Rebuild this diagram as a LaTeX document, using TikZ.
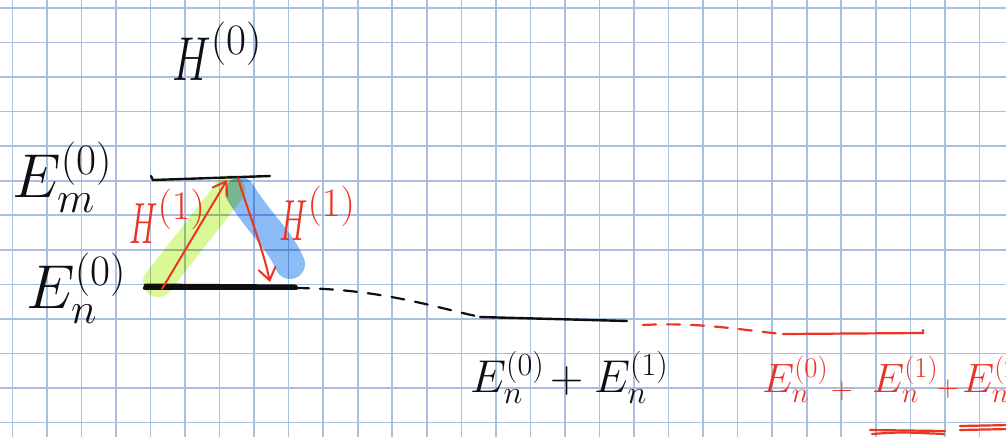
\RequirePackage{fix-cm}
\documentclass[tikz,border=0pt]{standalone}
\usepackage{graphicx}
\usetikzlibrary{arrows.meta}
\definecolor{gridc}{RGB}{170,190,224}
\definecolor{pen}{RGB}{15,15,15}
\definecolor{redpen}{RGB}{234,52,36}
\definecolor{hlgreen}{RGB}{218,248,150}
\definecolor{hlblue}{RGB}{140,188,245}
\begin{document}
\begin{tikzpicture}[x=1pt,y=-1pt,
  gridline/.style={gridc, line width=1.6pt},
  lbl/.style={inner sep=0pt, anchor=base west, text=pen},
  rlbl/.style={lbl, text=redpen},
  big/.style={font=\fontsize{62}{62}\selectfont},
  mid/.style={font=\fontsize{46}{46}\selectfont},
  small/.style={font=\fontsize{41}{41}\selectfont},
  plus/.style={font=\fontsize{30}{30}\selectfont},
  levelline/.style={pen, line width=2.4pt, line cap=round},
  thicklevel/.style={pen, line width=4.5pt, line cap=round},
  rlevel/.style={redpen, line width=2.2pt, line cap=round},
  hl/.style={line width=30pt, line cap=round},
  rarrow/.style={redpen, line width=2pt, line cap=round, line join=round,
     -{Straight Barb[length=12pt,width=17pt,line cap=round]}},
  pathdash/.style={line width=2.2pt, line cap=round, dash pattern=on 13pt off 11pt}]
\useasboundingbox (0,0) rectangle (1006,437);
\clip (0,0) rectangle (1006,437);
\fill[white] (0,0) rectangle (1006,437);
% grid
\foreach \k in {0,...,28} \draw[gridline] ({12.3+34.54*\k},0) -- ++(0,437);
\foreach \k in {0,...,12} \draw[gridline] (0,{8+34.54*\k}) -- ++(1006,0);
% coordinates of levels
\coordinate (u1) at (153,180);
\coordinate (u2) at (270,176);
\coordinate (l1) at (145,288);
\coordinate (l2) at (296,288);
\coordinate (m1) at (480,317);
\coordinate (m2) at (627,321);
\coordinate (r1) at (783,334);
\coordinate (r2) at (923,333);
% highlights
\begin{scope}[blend mode=multiply]
\draw[hl, hlgreen] (158,282) -- (230,190);
\draw[hl, hlblue] (240,192) .. controls (258,222) and (280,240) .. (290,264);
\end{scope}
% levels
\draw[levelline] ([xshift=-2pt,yshift=4pt]u1) -- (u1) -- (u2);
\draw[thicklevel] (l1) -- (l2);
\draw[levelline, line width=3pt] ([yshift=3pt]l1) -- ([yshift=2pt]l2);
\draw[pen, pathdash] (l2) .. controls (380,289) and (430,306) .. (m1);
\draw[levelline] (m1) -- (m2);
\draw[redpen, pathdash] ([xshift=16pt,yshift=-4pt]m2) .. controls (700,322) and (740,330) .. (r1);
\draw[rlevel] (r1) -- (r2) -- ++(0,-3);
% transition arrows
\coordinate (a1s) at (162,289);
\coordinate (a1e) at (227,180);
\coordinate (a2s) at (238,178);
\coordinate (a2e) at (270,282);
\draw[rarrow] (a1s) -- (a1e);
\draw[rarrow] (a2s) .. controls (248,212) and (262,245) .. (a2e);
% labels
\node[lbl, big] (H0) at (172,80) {$\scalebox{0.7}[1]{$H$}^{(0)}$};
\node[lbl, big] (Em) at (12,197) {$E_m^{(0)}$};
\node[lbl, big] (En) at (26,308) {$E_n^{(0)}$};
\node[rlbl, font=\fontsize{58}{58}\selectfont] (H1a) at (129,243) {$\scalebox{0.55}[1]{$H$}^{(1)}$};
\node[rlbl, font=\fontsize{58}{58}\selectfont] (H1b) at (279,240) {$\scalebox{0.55}[1]{$H$}^{(1)}$};
\node[lbl, mid] (b0) at (470,392) {$E_n^{(0)}$};
\node[lbl, mid] (bp) at (550,392) {$+$};
\node[lbl, mid] (b1) at (594,392) {$E_n^{(1)}$};
\node[rlbl, small] (s0) at (762,392) {$E_n^{(0)}$};
\node[rlbl, plus] (sp1) at (831,398) {$+$};
\node[rlbl, small] (s1) at (872,392) {$E_n^{(1)}$};
\node[rlbl, plus] (sp2) at (937,396) {$+$};
\node[rlbl, small] (s2) at (962,392) {$E_n^{(2)}$};
% underlines
\draw[rlevel] (870,430) -- (945,431);
\draw[rlevel] (872,434) .. controls (900,432) .. (944,434);
\draw[rlevel] (960,426) -- (1010,425);
\draw[rlevel] (960,430) -- (1010,429);
\end{tikzpicture}
\end{document}
